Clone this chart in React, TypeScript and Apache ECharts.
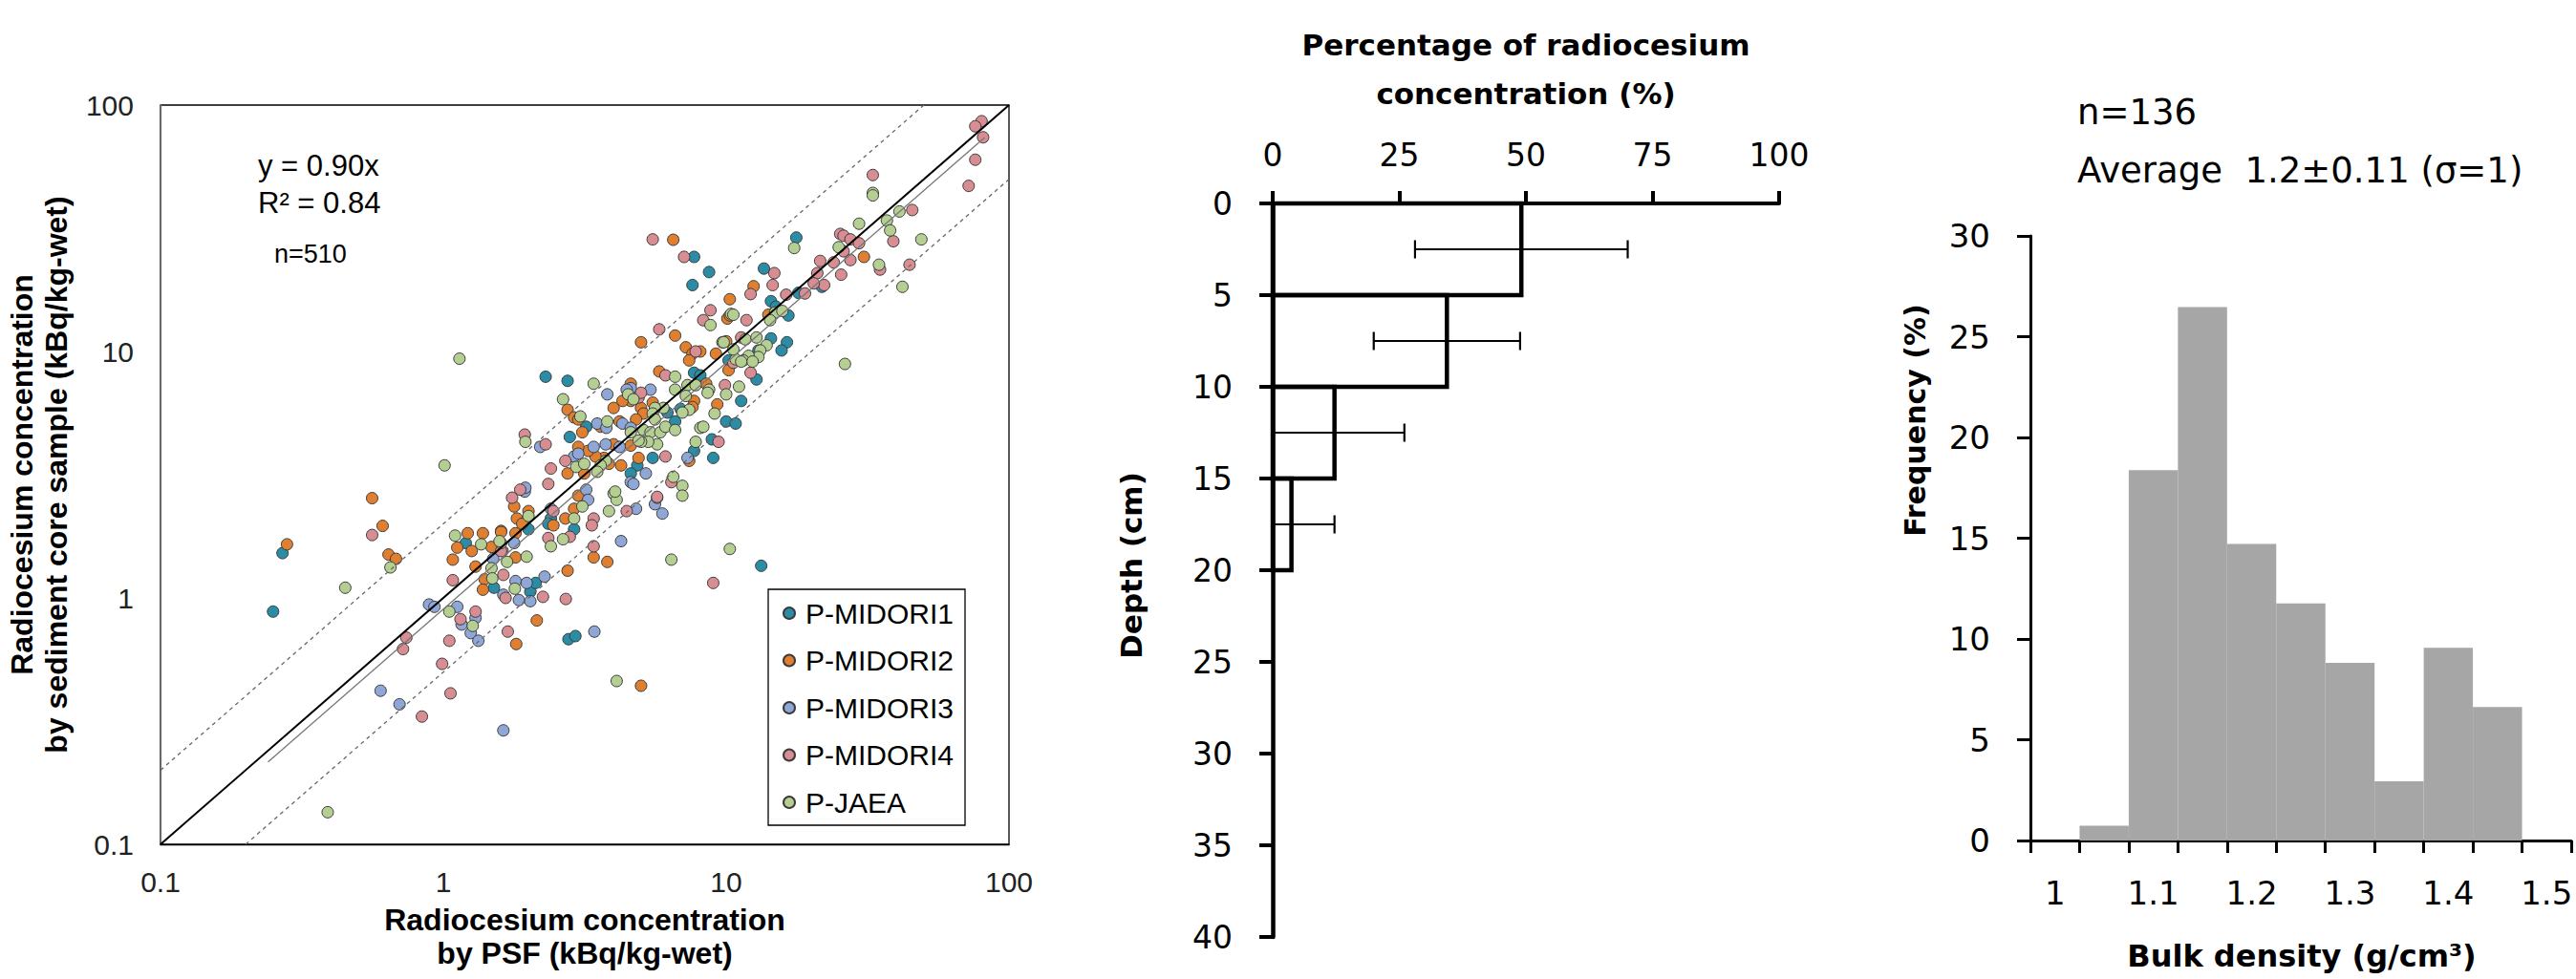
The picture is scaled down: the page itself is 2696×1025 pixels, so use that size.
import React, { useEffect, useRef } from 'react';
import * as echarts from 'echarts';

// ---------- Scatter data (x: PSF, y: sediment core), kBq/kg-wet ----------
const seriesNames = ['P-MIDORI1', 'P-MIDORI2', 'P-MIDORI3', 'P-MIDORI4', 'P-JAEA'];
const seriesColors = ['#2B8CA6', '#E07F2F', '#8FA7D7', '#D78D92', '#B4CF91'];

const midori1 = [
  [0.27, 1.52], [0.25, 0.88], [1.2, 1.67], [1.51, 1.1], [2.03, 1.06], [2.12, 1.15], [2.77, 0.68], [2.93, 0.7], [13.3, 1.35],
  [17.7, 29], [13.6, 21.7], [18, 17.3], [21.8, 18.3], [14.4, 16.0], [15, 15.2], [16.6, 14], [7.7, 24.2], [8.7, 21], [7.6, 18.6],
  [14.4, 11.3], [16.4, 10.9], [15.7, 10.1], [13.0, 10.1], [10.2, 9.2], [12.8, 7.7], [11.3, 6.3], [10, 5.2], [10.8, 5.1], [7.7, 8.2], [8.1, 8.0],
  [6.9, 5.85], [6.2, 5.65], [6.6, 5.2], [8.9, 4.4], [9.0, 3.7], [7.7, 3.95], [5.5, 3.7], [4.85, 3.45], [4.6, 3.2], [2.3, 7.9], [2.75, 7.6],
  [3.2, 4.95], [2.8, 4.5], [2.4, 2.1], [2.35, 2.0], [2.9, 1.9], [2.0, 1.9],
];

const midori2 = [
  [0.56, 2.54], [0.61, 1.96], [0.28, 1.65], [0.64, 1.5], [0.68, 1.44], [1.22, 1.83], [1.12, 1.6], [1.08, 1.43], [1.26, 1.55], [1.48, 1.61],
  [1.6, 1.87], [1.3, 1.34], [1.4, 1.19], [1.38, 1.08], [1.8, 1.46], [2.14, 0.81], [1.81, 0.65],
  [5.0, 0.44], [3.4, 1.46], [3.8, 1.4], [2.75, 1.29],
  [30.7, 24.2], [12.5, 18.4], [14.1, 14.1], [10.3, 16.3], [10.1, 13.6], [10.3, 14], [6.5, 28.4], [5.0, 10.9], [6.6, 11.6], [10, 11],
  [7.2, 10.4], [7.6, 9.8], [8.1, 10], [7.4, 9.2], [9.2, 9.8], [10.2, 8.4], [5.8, 8.3], [4.6, 7.4], [8.5, 7.4], [9.3, 6.1], [7.7, 6.3],
  [7.6, 5.95], [5.5, 6.2], [4.6, 6.3], [4.3, 6.3], [4.0, 5.9], [5.0, 5.9], [5.1, 5.6], [4.8, 5.3], [4.2, 5.2], [3.6, 4.95], [7.4, 3.6],
  [4.6, 4.15], [4.9, 3.7], [4.25, 3.45], [3.7, 3.7], [4.0, 4.2], [3.45, 3.75], [3.85, 3.5], [3.25, 3.95], [3.0, 4.1], [2.9, 2.3], [3.0, 2.6],
  [2.75, 5.8], [2.9, 5.4], [3.0, 5.3], [3.1, 4.7], [1.78, 2.35], [2.75, 3.2], [3.15, 3.2], [2.0, 2.25], [1.82, 2.1], [1.9, 2.0], [2.7, 2.1],
  [2.45, 1.97], [1.8, 1.83], [1.6, 1.85], [1.38, 1.83],
];

const midori3 = [
  [1.5, 1.44], [1.63, 1.03], [1.85, 0.98], [2.03, 0.97], [1.8, 1.17], [1.97, 1.15], [2.28, 1.22], [0.89, 0.94], [0.93, 0.92], [1.12, 0.92],
  [1.16, 0.78], [1.25, 0.72], [1.33, 0.67], [1.3, 0.83], [0.6, 0.42], [0.7, 0.37], [1.63, 0.29], [1.94, 2.7], [3.42, 0.73],
  [4.6, 7.1], [5.4, 7.0], [4.3, 5.1], [4.6, 4.9], [7.3, 3.7], [5.2, 3.2], [4.6, 2.95], [4.7, 2.9], [3.75, 4.2], [4.2, 4.1], [3.2, 2.75],
  [3.25, 2.5], [4.25, 1.7], [4.8, 2.3], [5.95, 2.2], [5.6, 2.4], [5.7, 2.55], [2.2, 4.1], [1.95, 2.8], [2.9, 3.75], [3.0, 3.85], [2.4, 2.3],
  [1.78, 1.67], [3.8, 6.7], [4.45, 7.0], [3.5, 5.1], [3.77, 4.9], [3.4, 4.1],
];

const midori4 = [
  [0.56, 1.8], [1.62, 1.55], [1.63, 1.24], [1.66, 1.0], [2.25, 1.01], [2.71, 0.99], [1.69, 0.73], [1.08, 1.18], [1.15, 0.82], [1.3, 0.88],
  [0.74, 0.69], [0.72, 0.62], [1.05, 0.67], [0.99, 0.54], [1.06, 0.41], [0.84, 0.33], [9.0, 1.15],
  [80, 86], [76, 82], [81, 74], [76, 60], [72, 47], [33, 52], [45.5, 37.5], [39, 28], [25.3, 30], [26, 29.5], [27.5, 28.5], [29.5, 27.5],
  [26, 25.5], [27.5, 23.5], [24, 23], [21.5, 23.3], [25.5, 20.5], [35, 21.5], [44.5, 22.5], [21, 20.8], [22.2, 18.6], [20.4, 18.9], [19, 17.2],
  [16.3, 17], [14.8, 20.8], [14.6, 18.6], [12.2, 17.1], [11.8, 13.4], [8.3, 13.4], [8.8, 14.7], [5.5, 28.5], [7.1, 24.2], [5.8, 12.3],
  [11.3, 11.4], [7.8, 10], [12.2, 8.2], [10.6, 9.0], [6.1, 8.0], [9.9, 7.3], [4.9, 6.5], [5.0, 6.8], [9.4, 4.3], [6.1, 3.75], [3.4, 2.1],
  [3.35, 1.97], [3.4, 1.62], [4.45, 2.25], [5.7, 2.57], [6.4, 2.95], [1.94, 4.6], [2.3, 4.2], [2.4, 3.35], [2.35, 2.9], [1.87, 2.75],
  [1.75, 2.55], [2.7, 3.6], [2.45, 2.25], [2.35, 1.75], [2.8, 1.77], [1.6, 1.55],
];

const pJaea = [
  [0.45, 1.1], [0.65, 1.33], [1.1, 1.79], [1.6, 1.67], [1.48, 1.32], [1.49, 1.2], [1.68, 1.4], [1.97, 1.47], [1.79, 1.09], [1.05, 0.88],
  [1.27, 0.77], [0.39, 0.135], [1.14, 9.35], [1.01, 3.45], [6.4, 1.43], [4.1, 0.46],
  [33, 44], [33, 43], [41, 37], [37, 34], [29.5, 33], [38, 31], [49, 28.5], [25, 26.5], [34.7, 22.5], [42, 18.3], [17.4, 26.3], [14.9, 14.4],
  [15.8, 14.6], [14.3, 13.4], [8.8, 12.8], [10.4, 14.2], [10.6, 14.1], [9.7, 10.9], [11.7, 11.2], [12.8, 11.4], [13.9, 10.6], [13.2, 10.1],
  [13, 9.5], [12, 9.6], [11.5, 9.2], [12.4, 9.1], [10.8, 9.3], [11.3, 9.1], [10.6, 10.2], [9.8, 10.9], [6.6, 7.9], [7.3, 7.3], [7.8, 7.3],
  [6.6, 7.0], [8.7, 7.0], [8.6, 6.8], [10, 6.7], [11.1, 7.2], [9.1, 5.6], [7.2, 6.6], [7.4, 5.8], [7.0, 5.65], [6.0, 5.9], [5.6, 5.9],
  [4.5, 6.7], [4.7, 6.4], [5.5, 5.6], [5.6, 5.3], [3.8, 5.2], [5.1, 4.8], [5.4, 4.7], [5.85, 4.7], [6.1, 4.95], [6.6, 4.8], [8.1, 4.9],
  [8.3, 4.95], [7.8, 4.3], [5.7, 4.2], [5.3, 4.3], [5.0, 4.3], [4.6, 4.7], [4.9, 4.35], [3.75, 3.6], [3.6, 3.45], [3.5, 3.25], [3.1, 2.35],
  [3.85, 2.25], [4.0, 2.65], [4.1, 2.5], [4.05, 2.7], [10.3, 1.58], [6.5, 3.1], [7.0, 2.85], [7.0, 2.6], [3.4, 7.4], [2.65, 6.4], [3.05, 5.45],
  [1.95, 4.3], [2.95, 3.4], [3.15, 3.5], [2.0, 2.15], [2.9, 2.1], [2.65, 1.73], [2.4, 1.62], [1.58, 1.7], [1.36, 1.65], [26.3, 8.9],
];

const scatterSets = [midori1, midori2, midori3, midori4, pJaea];

// reference lines (endpoints)
const oneToOneLine = [[0.1, 0.1], [100, 100]];
const upperFactorLine = [[0.1, 0.2], [50, 100]];
const lowerFactorLine = [[0.2, 0.1], [100, 50]];
const fitLine = [[0.24, 0.216], [82, 73.8]];

// ---------- Depth profile ----------
const depthTop = [0, 5, 10, 15];
const depthBottom = [5, 10, 15, 20];
const depthPercent = [49.1, 34.4, 12.2, 3.7];
const depthSD = [21.0, 14.45, 13.8, 8.5];

// ---------- Bulk density histogram ----------
const densityCategories = ['1', '1.05', '1.1', '1.15', '1.2', '1.25', '1.3', '1.35', '1.4', '1.45', '1.5'];
const densityFrequency = [0, 0.74, 18.38, 26.47, 14.71, 11.76, 8.82, 2.94, 9.56, 6.62, 0];

const ARIAL = "'Liberation Sans', Arial, sans-serif";
const WIDE = "'DejaVu Sans', Verdana, sans-serif";

function txt(x: number, y: number, text: string, opts: any = {}) {
  const align = opts.align || 'left';
  return {
    type: 'text',
    x,
    y,
    rotation: opts.rotation || 0,
    z: 100,
    style: {
      text,
      fill: '#000',
      fontSize: opts.fontSize || 30,
      fontFamily: opts.fontFamily || ARIAL,
      fontWeight: opts.fontWeight || 'normal',
      lineHeight: opts.lineHeight,
      align,
      textAlign: align,
      verticalAlign: 'middle',
      textVerticalAlign: 'middle',
    },
  };
}

export default function App() {
  const ref = useRef<HTMLDivElement>(null);

  useEffect(() => {
    if (!ref.current) return;
    const chart = echarts.init(ref.current, undefined, { renderer: 'svg' });

    const scatterSeries = scatterSets.map((d, i) => ({
      name: seriesNames[i],
      type: 'scatter',
      xAxisIndex: 0,
      yAxisIndex: 0,
      data: d,
      symbol: 'circle',
      symbolSize: 12,
      itemStyle: { color: seriesColors[i], borderColor: '#3a3a3a', borderWidth: 1, opacity: 1 },
      z: 3,
    }));

    const lineBase = (data: number[][], color: string, width: number, type: any) => ({
      type: 'line',
      xAxisIndex: 0,
      yAxisIndex: 0,
      data,
      symbol: 'none',
      silent: true,
      lineStyle: { color, width, type },
      z: 4,
    });

    const option: any = {
      animation: false,
      backgroundColor: '#ffffff',
      grid: [
        { left: 168, top: 110, width: 888, height: 774, show: true, borderColor: '#000', borderWidth: 1.3, backgroundColor: 'transparent' },
        { left: 1332, top: 213, width: 530, height: 768 },
        { left: 2125, top: 247, width: 566, height: 633 },
      ],
      legend: {
        data: seriesNames,
        orient: 'vertical',
        left: 804,
        top: 617,
        padding: [10, 12, 9, 15],
        itemGap: 19.5,
        itemWidth: 12,
        itemHeight: 12,
        icon: 'circle',
        backgroundColor: '#fff',
        borderColor: '#000',
        borderWidth: 1.3,
        textStyle: { fontSize: 30, fontFamily: ARIAL, color: '#000', lineHeight: 30, padding: [0, 0, 0, 6] },
      },
      xAxis: [
        {
          gridIndex: 0, type: 'log', logBase: 10, min: 0.1, max: 100,
          axisLine: { show: true, onZero: false, lineStyle: { color: '#000', width: 1.3 } },
          axisTick: { show: false }, splitLine: { show: false }, minorTick: { show: false },
          axisLabel: { fontSize: 30, color: '#222', fontFamily: ARIAL, margin: 24 },
        },
        {
          gridIndex: 1, type: 'value', position: 'top', min: 0, max: 100, interval: 25,
          axisLine: { show: true, onZero: false, lineStyle: { color: '#000', width: 4 } },
          axisTick: { show: true, length: 13, lineStyle: { color: '#000', width: 4 } },
          splitLine: { show: false },
          axisLabel: { fontSize: 33, color: '#000', fontFamily: WIDE, margin: 34 },
        },
        {
          gridIndex: 2, type: 'category', data: densityCategories, boundaryGap: true,
          axisLine: { show: true, lineStyle: { color: '#000', width: 3 } },
          axisTick: { show: true, interval: 0, length: 13, lineStyle: { color: '#000', width: 3 } },
          axisLabel: { interval: 1, fontSize: 34, color: '#000', fontFamily: WIDE, margin: 38 },
          splitLine: { show: false },
        },
      ],
      yAxis: [
        {
          gridIndex: 0, type: 'log', logBase: 10, min: 0.1, max: 100,
          axisLine: { show: true, onZero: false, lineStyle: { color: '#777', width: 1.3 } },
          axisTick: { show: false }, splitLine: { show: false }, minorTick: { show: false },
          axisLabel: { fontSize: 30, color: '#222', fontFamily: ARIAL, margin: 28 },
        },
        {
          gridIndex: 1, type: 'value', inverse: true, min: 0, max: 40, interval: 5,
          axisLine: { show: true, onZero: false, lineStyle: { color: '#000', width: 4.5 } },
          axisTick: { show: true, length: 14, lineStyle: { color: '#000', width: 4 } },
          splitLine: { show: false },
          axisLabel: { fontSize: 33, color: '#000', fontFamily: WIDE, margin: 42 },
        },
        {
          gridIndex: 2, type: 'value', min: 0, max: 30, interval: 5,
          axisLine: { show: true, lineStyle: { color: '#000', width: 3 } },
          axisTick: { show: true, length: 14, lineStyle: { color: '#000', width: 3 } },
          splitLine: { show: false },
          axisLabel: { fontSize: 34, color: '#000', fontFamily: WIDE, margin: 42 },
        },
      ],
      series: [
        ...scatterSeries,
        lineBase(oneToOneLine, '#000', 2, 'solid'),
        lineBase(upperFactorLine, '#666', 1.3, [4, 4]),
        lineBase(lowerFactorLine, '#666', 1.3, [4, 4]),
        lineBase(fitLine, '#777', 1.3, 'solid'),
        {
          type: 'custom',
          xAxisIndex: 1,
          yAxisIndex: 1,
          silent: true,
          data: depthTop.map((t, i) => [t, depthBottom[i], depthPercent[i]]),
          encode: { x: 2, y: [0, 1] },
          renderItem: (params: any, api: any) => {
            const p0 = api.coord([0, api.value(0)]);
            const p1 = api.coord([api.value(2), api.value(1)]);
            return {
              type: 'rect',
              shape: { x: p0[0], y: p0[1], width: p1[0] - p0[0], height: p1[1] - p0[1] },
              style: { fill: 'none', stroke: '#000', lineWidth: 4.5 },
            };
          },
          z: 5,
        },
        {
          type: 'custom',
          xAxisIndex: 1,
          yAxisIndex: 1,
          silent: true,
          data: depthTop.map((t, i) => [(t + depthBottom[i]) / 2, depthPercent[i], depthSD[i]]),
          encode: { x: 1, y: 0 },
          renderItem: (params: any, api: any) => {
            const mid = api.value(0);
            const v = api.value(1);
            const sd = api.value(2);
            const lo = Math.max(0, v - sd);
            const hi = v + sd;
            const pL = api.coord([lo, mid]);
            const pH = api.coord([hi, mid]);
            const cap = 9.5;
            const st = { stroke: '#000', lineWidth: 2.2 };
            const children: any[] = [
              { type: 'line', shape: { x1: pL[0], y1: pL[1], x2: pH[0], y2: pH[1] }, style: st },
              { type: 'line', shape: { x1: pH[0], y1: pH[1] - cap, x2: pH[0], y2: pH[1] + cap }, style: st },
            ];
            if (v - sd > 0) {
              children.push({ type: 'line', shape: { x1: pL[0], y1: pL[1] - cap, x2: pL[0], y2: pL[1] + cap }, style: st });
            }
            return { type: 'group', children };
          },
          z: 6,
        },
        {
          type: 'bar',
          xAxisIndex: 2,
          yAxisIndex: 2,
          data: densityFrequency,
          barCategoryGap: '0%',
          itemStyle: { color: '#A6A6A6' },
          silent: true,
          z: 2,
        },
      ],
      graphic: [
        txt(41, 497, 'Radiocesium concentration\nby sediment core sample (kBq/kg-wet)', { rotation: Math.PI / 2, fontWeight: 'bold', fontSize: 32, lineHeight: 36, align: 'center' }),
        txt(612, 980, 'Radiocesium concentration\nby PSF (kBq/kg-wet)', { fontWeight: 'bold', fontSize: 32, lineHeight: 35, align: 'center' }),
        txt(270, 173, 'y = 0.90x', { fontSize: 31 }),
        txt(270, 212, 'R² = 0.84', { fontSize: 31 }),
        txt(287, 266, 'n=510', { fontSize: 27 }),
        txt(1597, 72, 'Percentage of radiocesium\nconcentration (%)', { fontWeight: 'bold', fontSize: 31, lineHeight: 51, align: 'center', fontFamily: WIDE }),
        txt(1184, 592, 'Depth (cm)', { rotation: Math.PI / 2, fontWeight: 'bold', fontSize: 31, align: 'center', fontFamily: WIDE }),
        txt(2004, 440, 'Frequency (%)', { rotation: Math.PI / 2, fontWeight: 'bold', fontSize: 30, align: 'center', fontFamily: WIDE }),
        txt(2409, 1001, 'Bulk density (g/cm³)', { fontWeight: 'bold', fontSize: 32, align: 'center', fontFamily: WIDE }),
        txt(2174, 117, 'n=136', { fontSize: 37, fontFamily: WIDE }),
        txt(2174, 178, 'Average  1.2±0.11 (σ=1)', { fontSize: 37, fontFamily: WIDE }),
      ],
    };

    chart.setOption(option);
    return () => {
      chart.dispose();
    };
  }, []);

  return <div ref={ref} style={{ position: 'fixed', left: 0, top: 0, width: 2696, height: 1025, background: '#fff' }} />;
}
